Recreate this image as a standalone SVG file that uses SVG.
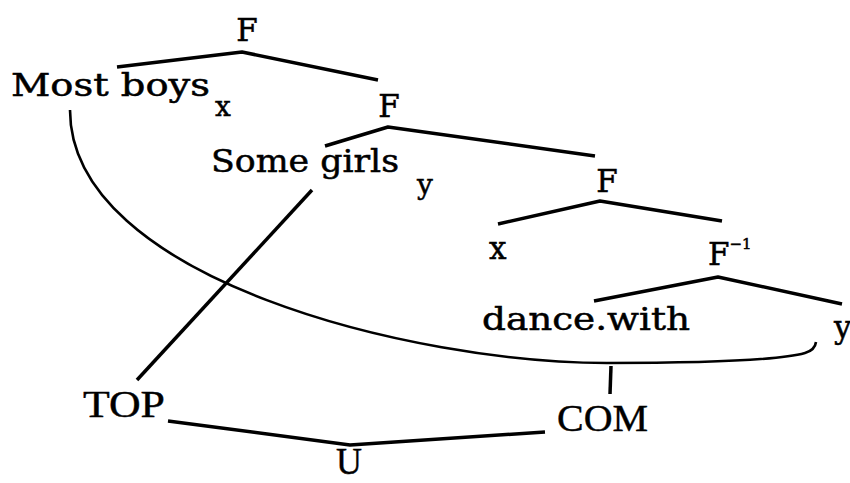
<svg xmlns="http://www.w3.org/2000/svg" width="850" height="483" viewBox="0 0 850 483">
<style>
.t{font-family:"DejaVu Serif","Liberation Serif",serif;font-size:31px;fill:#000;stroke:#000;stroke-width:0.5}
.s{font-family:"DejaVu Serif","Liberation Serif",serif;font-size:28px;fill:#000;stroke:#000;stroke-width:0.5}
.b{font-family:"Liberation Serif","DejaVu Serif",serif;font-size:37px;fill:#000;stroke:#000;stroke-width:0.4}
.e{fill:none;stroke:#000;stroke-width:3.5;stroke-linecap:butt;stroke-linejoin:round}
.c{fill:none;stroke:#000;stroke-width:2.6}
</style>
<rect width="850" height="483" fill="#fff"/>
<g id="connectors">
<polyline class="e" points="117,67 242,52 378,80"/>
<polyline class="e" points="325,146 388,127 595,156"/>
<polyline class="e" points="498,224 600,201 722,221"/>
<polyline class="e" points="594,301 718,277 842,304"/>
<polyline class="e" points="168,421 350,445 545,432"/>
<path class="c" d="M70,110 C70,279 414,363 607,363 C700,363 780,360 805,353 Q815,350 816,342"/>
<line class="e" x1="312" y1="190" x2="137" y2="380"/>
<line class="e" stroke-width="3" x1="611" y1="366" x2="610" y2="394"/>
</g>
<g id="F1"><text class="t" x="247" y="41" text-anchor="middle">F</text></g>
<g id="most-boys"><text class="t" x="11" y="96" textLength="199" lengthAdjust="spacingAndGlyphs">Most boys</text><text class="s" x="215" y="116">x</text></g>
<g id="F2"><text class="t" x="389" y="117" text-anchor="middle">F</text></g>
<g id="some-girls"><text class="t" x="211" y="172" textLength="188" lengthAdjust="spacingAndGlyphs">Some girls</text><text class="s" x="417" y="194">y</text></g>
<g id="F3"><text class="t" x="607" y="192" text-anchor="middle">F</text></g>
<g id="x"><text class="t" x="489" y="259">x</text></g>
<g id="F-inv"><text class="t" x="708" y="265">F<tspan font-size="15" dy="-16">−1</tspan></text></g>
<g id="dance-with"><text class="t" x="482" y="330" textLength="208" lengthAdjust="spacingAndGlyphs">dance.with</text></g>
<g id="y"><text class="t" x="834" y="338">y</text></g>
<g id="TOP"><text class="b" x="83" y="417" textLength="82" lengthAdjust="spacingAndGlyphs">TOP</text></g>
<g id="COM"><text class="b" x="557" y="431" textLength="91" lengthAdjust="spacingAndGlyphs">COM</text></g>
<g id="U"><text class="b" x="336" y="474" font-size="33" textLength="26" lengthAdjust="spacingAndGlyphs">U</text></g>
</svg>
